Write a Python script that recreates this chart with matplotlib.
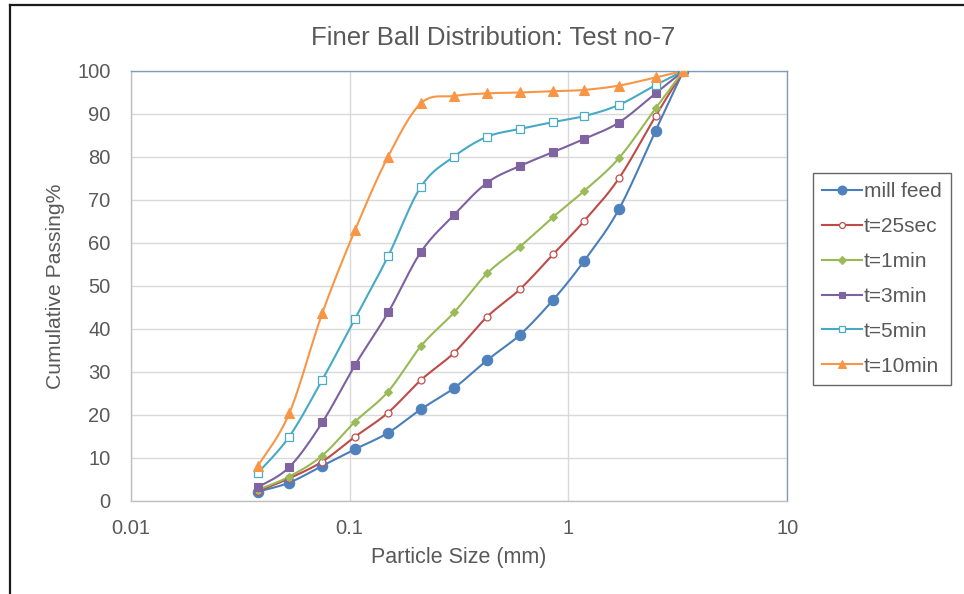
import numpy as np
import matplotlib
matplotlib.use("Agg")
import matplotlib.pyplot as plt
from matplotlib.lines import Line2D

plt.rcParams["font.family"] = ["Liberation Sans", "DejaVu Sans"]

# sieve sizes (mm)
sizes = [0.038, 0.053, 0.075, 0.106, 0.15, 0.212, 0.3, 0.425, 0.6, 0.85, 1.18, 1.7, 2.5, 3.35]

mill_feed = [2.1, 4.2, 8.1, 12.0, 15.8, 21.3, 26.2, 32.7, 38.6, 46.7, 55.8, 67.8, 86.1, 100]
t_25sec = [2.2, 5.2, 9.1, 14.9, 20.5, 28.1, 34.4, 42.8, 49.2, 57.3, 65.1, 75.0, 89.5, 100]
t_1min = [2.5, 5.6, 10.5, 18.4, 25.4, 36.0, 43.8, 52.9, 59.1, 66.0, 72.1, 79.7, 91.3, 100]
t_3min = [3.1, 7.8, 18.2, 31.6, 43.8, 57.9, 66.5, 74.0, 77.9, 81.1, 84.2, 88.0, 94.8, 100]
t_5min = [6.4, 14.9, 28.1, 42.4, 56.9, 73.1, 80.1, 84.7, 86.5, 88.1, 89.5, 92.1, 96.7, 100]
t_10min = [8.0, 20.3, 43.6, 63.0, 80.1, 92.5, 94.2, 94.8, 95.0, 95.3, 95.6, 96.6, 98.5, 100]

labels = ["mill feed", "t=25sec", "t=1min", "t=3min", "t=5min", "t=10min"]
series = [mill_feed, t_25sec, t_1min, t_3min, t_5min, t_10min]

styles = [
    dict(color="#4A7EBB", marker="o", ms=7.5, mfc="#4F81BD", mec="#4F81BD"),
    dict(color="#BE4B48", marker="o", ms=5.0, mfc="white", mec="#C0504D", mew=0.9),
    dict(color="#98B954", marker="D", ms=4.5, mfc="#9BBB59", mec="#9BBB59"),
    dict(color="#7D60A0", marker="s", ms=5.5, mfc="#8064A2", mec="#8064A2"),
    dict(color="#46AAC5", marker="s", ms=5.5, mfc="white", mec="#4BACC6", mew=0.9),
    dict(color="#F79646", marker="^", ms=7.0, mfc="#F79646", mec="#F79646"),
]


def smooth(xs, ys, n=24):
    # bezier smoothing in screen-like space (log x), like spreadsheet "smoothed lines"
    u = (np.log10(xs) + 2) * 219.0
    v = np.asarray(ys, dtype=float) * 4.3
    pts = np.column_stack([u, v])
    out = [pts[0]]
    for i in range(len(pts) - 1):
        p0 = pts[i - 1] if i > 0 else pts[i]
        p1, p2 = pts[i], pts[i + 1]
        p3 = pts[i + 2] if i + 2 < len(pts) else pts[i + 1]
        c1 = p1 + (p2 - p0) / 6.0
        c2 = p2 - (p3 - p1) / 6.0
        t = np.linspace(0, 1, n)[1:, None]
        seg = ((1 - t) ** 3) * p1 + 3 * ((1 - t) ** 2) * t * c1 + 3 * (1 - t) * t ** 2 * c2 + t ** 3 * p2
        out.extend(seg)
    out = np.array(out)
    return 10 ** (out[:, 0] / 219.0 - 2), out[:, 1] / 4.3


W, H = 964, 594
fig = plt.figure(figsize=(W / 100, H / 100), dpi=100)
ax = fig.add_axes([130.7 / W, 1 - 500.7 / H, (787.3 - 130.7) / W, (500.7 - 71) / H])

text_color = "#595959"
x = np.array(sizes)
handles = []
for vals, lab, st in zip(series, labels, styles):
    sx, sy = smooth(x, vals)
    ax.plot(sx, sy, color=st["color"], lw=1.5, zorder=3)
    ax.plot(x, vals, ls="none", marker=st["marker"], ms=st["ms"], mfc=st["mfc"],
            mec=st["mec"], mew=st.get("mew", 0.8), zorder=4)
    handles.append(Line2D([], [], color=st["color"], lw=1.5, marker=st["marker"],
                          ms=st["ms"] * 0.85, mfc=st["mfc"], mec=st["mec"],
                          mew=st.get("mew", 0.8), label=lab))

ax.set_xscale("log")
ax.set_xlim(0.01, 10)
ax.set_ylim(0, 100)
ax.set_xticks([0.01, 0.1, 1, 10])
ax.set_xticklabels(["0.01", "0.1", "1", "10"])
ax.set_yticks(range(0, 101, 10))
ax.minorticks_off()
ax.grid(True, color="#D9D9D9", lw=1.0, zorder=0)
ax.tick_params(length=0, labelsize=14.5, colors=text_color)
ax.tick_params(axis="y", pad=14.5)
ax.tick_params(axis="x", pad=13)
for side in ["top", "right"]:
    ax.spines[side].set_color("#7F9DB9")
for side in ["left", "bottom"]:
    ax.spines[side].set_color("#BFBFBF")
for sp in ax.spines.values():
    sp.set_linewidth(1.0)

ax.set_xlabel("Particle Size (mm)", fontsize=15.5, color=text_color, labelpad=7)
ax.set_ylabel("Cumulative Passing%", fontsize=15.2, color=text_color, labelpad=9)
fig.text(493 / W, 1 - 38 / H, "Finer Ball Distribution: Test no-7", fontsize=18.5,
         color=text_color, ha="center", va="center")

leg = fig.legend(handles=handles, loc="upper left", bbox_to_anchor=(813 / W, 1 - 173 / H),
                 bbox_transform=fig.transFigure, borderaxespad=0, fontsize=15,
                 frameon=True, fancybox=False, handlelength=1.9, handletextpad=0.1,
                 labelspacing=0.76, borderpad=0.45)
leg.get_frame().set_edgecolor("#404040")
leg.get_frame().set_linewidth(1.0)
for t in leg.get_texts():
    t.set_color(text_color)

# outer frame of the chart area
fig.add_artist(Line2D([10 / W, 10 / W], [0, 1 - 5 / H], transform=fig.transFigure,
                      color="#1A1A1A", lw=1.6))
fig.add_artist(Line2D([10 / W, 1], [1 - 5 / H, 1 - 5 / H], transform=fig.transFigure,
                      color="#1A1A1A", lw=1.6))

fig.savefig("out.png", dpi=100)
